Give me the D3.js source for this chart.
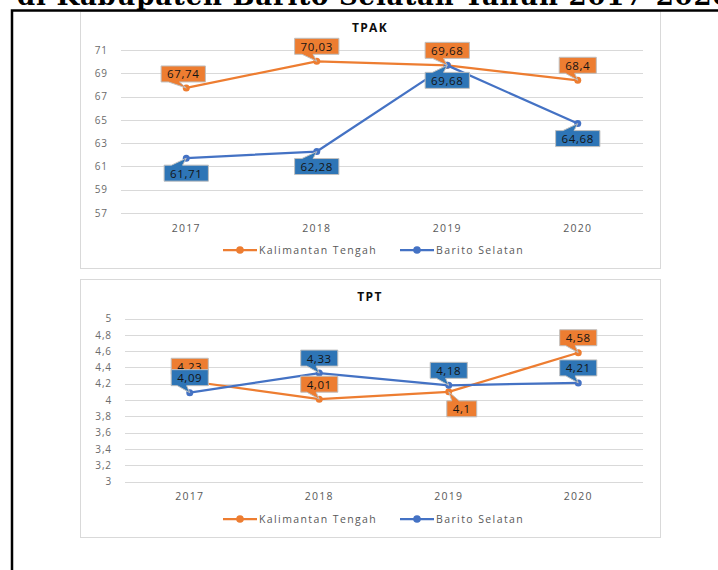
<!DOCTYPE html>
<html>
<head>
<meta charset="utf-8">
<script src="https://cdn.jsdelivr.net/npm/d3@7"></script>
<style>
  html, body { margin: 0; padding: 0; background: #fff; }
  svg { display: block; }
</style>
</head>
<body>
<svg id="page" width="718" height="570"></svg>
<script>
// data
const years = ['2017', '2018', '2019', '2020']
const seriesNames = ['Kalimantan Tengah', 'Barito Selatan']
const tpakKalteng = [67.74, 70.03, 69.68, 68.4]
const tpakBarsel = [61.71, 62.28, 69.68, 64.68]
const tptKalteng = [4.23, 4.01, 4.1, 4.58]
const tptBarsel = [4.09, 4.33, 4.18, 4.21]
const tpakTicks = [57, 59, 61, 63, 65, 67, 69, 71]
const tptTicks = [3, 3.2, 3.4, 3.6, 3.8, 4, 4.2, 4.4, 4.6, 4.8, 5]
const headerText = 'di Kabupaten Barito Selatan Tahun 2017-2020'

// posisi label (dx, dy pusat label dari titik)
const up = [0, -15]
const down = [0, 15]
const tpakShiftKalteng = [[-3, -14], up, up, up]
const tpakShiftBarsel = [down, down, down, down]
const tptShiftKalteng = [up, up, [13, 17], up]
const tptShiftBarsel = [up, up, up, up]

const colors = ['#ED7D31', '#4472C4']
const labelFill = ['#ED7D31', '#2E75B6']
const font = '"Open Sans", "DejaVu Sans", sans-serif'

const fmt = v => String(v).replace('.', ',')

const svg = d3.select('#page')

// judul halaman (terpotong di atas)
svg.append('text')
  .attr('x', 17)
  .attr('y', 5)
  .attr('font-family', '"DejaVu Serif", serif')
  .attr('font-weight', 'bold')
  .attr('font-size', 26)
  .attr('letter-spacing', 0.8)
  .attr('fill', '#000')
  .text(headerText)

function drawChart(cfg) {
  const g = svg.append('g')
  // bingkai chart
  g.append('rect')
    .attr('x', cfg.frame[0] + 0.5)
    .attr('y', cfg.frame[1] + 0.5)
    .attr('width', cfg.frame[2])
    .attr('height', cfg.frame[3])
    .attr('fill', '#fff')
    .attr('stroke', '#D9D9D9')

  const x = d3.scaleBand().domain(years).range([cfg.x0, cfg.x1])
  const cx = d => x(d) + x.bandwidth() / 2
  const y = d3.scaleLinear().domain(cfg.domain).range(cfg.yRange)

  g.append('text')
    .attr('x', cfg.frame[0] + cfg.frame[2] / 2)
    .attr('y', cfg.titleY)
    .attr('text-anchor', 'middle')
    .attr('font-family', font)
    .attr('font-weight', 'bold')
    .attr('font-size', 12)
    .attr('letter-spacing', 1.3)
    .attr('fill', '#0d0d0d')
    .text(cfg.title)

  // grid
  g.selectAll('.grid')
    .data(cfg.ticks)
    .enter()
    .append('line')
    .attr('x1', cfg.x0)
    .attr('x2', cfg.x1)
    .attr('y1', d => Math.round(y(d)) + 0.5)
    .attr('y2', d => Math.round(y(d)) + 0.5)
    .attr('stroke', '#D9D9D9')
    .attr('stroke-width', 1)

  const yAxis = g.append('g')
    .attr('transform', `translate(${cfg.x0 - 7},0)`)
    .call(d3.axisLeft(y).tickValues(cfg.ticks).tickFormat(fmt).tickSize(0).tickPadding(6))
  yAxis.select('.domain').remove()
  yAxis.selectAll('text')
    .attr('font-family', font)
    .attr('font-size', 10)
    .attr('letter-spacing', 0.9)
    .attr('fill', '#6b6b6b')

  const xAxis = g.append('g')
    .attr('transform', `translate(0,${cfg.xLabelY})`)
    .call(d3.axisBottom(x).tickSize(0).tickPadding(0))
  xAxis.select('.domain').remove()
  xAxis.selectAll('text')
    .attr('dy', 0)
    .attr('font-family', font)
    .attr('font-size', 10.5)
    .attr('letter-spacing', 1.3)
    .attr('fill', '#595959')

  const line = d3.line().x(d => cx(d.year)).y(d => y(d.v))
  const series = cfg.series.map((vals, i) => vals.map((v, j) => ({ year: years[j], v, i, shift: cfg.shifts[i][j] })))

  series.forEach((s, i) => {
    g.append('path')
      .datum(s)
      .attr('d', line)
      .attr('fill', 'none')
      .attr('stroke', colors[i])
      .attr('stroke-width', 2.25)
      .attr('stroke-linejoin', 'round')
    g.selectAll(null)
      .data(s)
      .enter()
      .append('circle')
      .attr('cx', d => cx(d.year))
      .attr('cy', d => y(d.v))
      .attr('r', 3.5)
      .attr('fill', colors[i])
  })

  // label callout
  series.forEach((s, i) => {
    s.forEach((d) => {
      const px = cx(d.year)
      const py = y(d.v)
      const lx = px + d.shift[0]
      const ly = py + d.shift[1]
      const lg = g.append('g')
      const t = lg.append('text')
        .attr('x', lx)
        .attr('y', ly)
        .attr('text-anchor', 'middle')
        .attr('dominant-baseline', 'central')
        .attr('font-family', font)
        .attr('font-size', 11.5)
        .attr('letter-spacing', 0.6)
        .attr('fill', '#141414')
        .text(fmt(d.v))
      const w = t.node().getComputedTextLength() + 12
      const h = 16
      const x0 = lx - w / 2
      const x1 = lx + w / 2
      const y0 = ly - h / 2
      const y1 = ly + h / 2
      const bl = x0 + w / 6
      const br = x0 + w * 5 / 12
      let p
      if (py > y1) {
        p = `M${x0},${y0}H${x1}V${y1}H${br}L${px},${py}L${bl},${y1}H${x0}Z`
      } else {
        p = `M${x0},${y0}H${bl}L${px},${py}L${br},${y0}H${x1}V${y1}H${x0}Z`
      }
      lg.insert('path', 'text')
        .attr('d', p)
        .attr('fill', labelFill[i])
        .attr('stroke', '#BFBFBF')
        .attr('stroke-width', 1)
    })
  })

  // legend
  const lx = [223, 400]
  seriesNames.forEach((name, i) => {
    const lg = g.append('g').attr('transform', `translate(${lx[i]},${cfg.legendY})`)
    lg.append('line')
      .attr('x1', 0).attr('x2', 34)
      .attr('stroke', colors[i])
      .attr('stroke-width', 2.25)
    lg.append('circle')
      .attr('cx', 17)
      .attr('r', 3.8)
      .attr('fill', colors[i])
    lg.append('text')
      .attr('x', 36)
      .attr('dominant-baseline', 'central')
      .attr('font-family', font)
      .attr('font-size', 10.5)
      .attr('letter-spacing', 1.4)
      .attr('fill', '#595959')
      .text(name)
  })
}

drawChart({
  title: 'TPAK',
  frame: [80, 11, 580, 257],
  x0: 121,
  x1: 643,
  domain: [57, 71],
  yRange: [213, 50],
  ticks: tpakTicks,
  titleY: 32,
  xLabelY: 232,
  legendY: 250,
  series: [tpakKalteng, tpakBarsel],
  shifts: [tpakShiftKalteng, tpakShiftBarsel],
})

drawChart({
  title: 'TPT',
  frame: [80, 279, 580, 258],
  x0: 125,
  x1: 643,
  domain: [3, 5],
  yRange: [481.5, 318.5],
  ticks: tptTicks,
  titleY: 301,
  xLabelY: 500,
  legendY: 519,
  series: [tptKalteng, tptBarsel],
  shifts: [tptShiftKalteng, tptShiftBarsel],
})

// bingkai hitam halaman
svg.append('rect')
  .attr('x', 12)
  .attr('y', 10.5)
  .attr('width', 800)
  .attr('height', 700)
  .attr('fill', 'none')
  .attr('stroke', '#000')
  .attr('stroke-width', 2.5)
</script>
</body>
</html>
